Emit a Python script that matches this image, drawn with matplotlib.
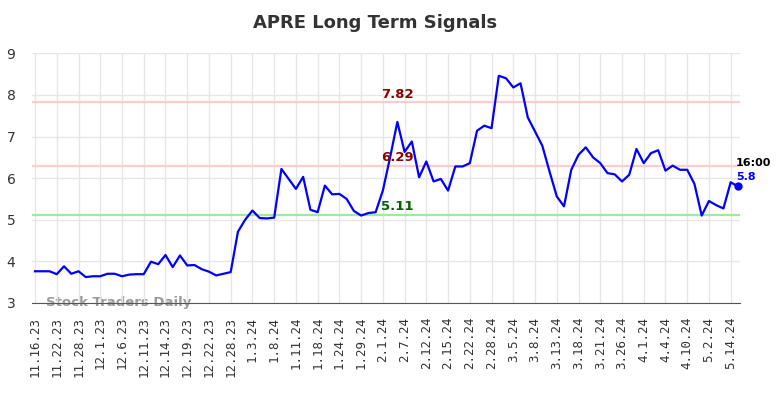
import matplotlib
matplotlib.use("Agg")
import matplotlib.pyplot as plt

tick_labels = ["11.16.23", "11.22.23", "11.28.23", "12.1.23", "12.6.23", "12.11.23", "12.14.23",
               "12.19.23", "12.22.23", "12.28.23", "1.3.24", "1.8.24", "1.11.24", "1.18.24",
               "1.24.24", "1.29.24", "2.1.24", "2.7.24", "2.12.24", "2.15.24", "2.22.24",
               "2.28.24", "3.5.24", "3.8.24", "3.13.24", "3.18.24", "3.21.24", "3.26.24",
               "4.1.24", "4.4.24", "4.10.24", "5.2.24", "5.14.24"]

values = [3.76, 3.76, 3.76, 3.69, 3.88, 3.70, 3.76, 3.62, 3.64, 3.64,
          3.70, 3.70, 3.64, 3.68, 3.69, 3.69, 3.99, 3.93, 4.15, 3.86,
          4.14, 3.90, 3.91, 3.81, 3.75, 3.66, 3.70, 3.74, 4.71, 5.00,
          5.22, 5.04, 5.03, 5.05, 6.22, 5.98, 5.74, 6.03, 5.24, 5.18,
          5.82, 5.61, 5.62, 5.50, 5.21, 5.10, 5.16, 5.18, 5.70, 6.50,
          7.35, 6.63, 6.88, 6.02, 6.40, 5.92, 5.98, 5.70, 6.28, 6.28,
          6.36, 7.14, 7.26, 7.20, 8.46, 8.40, 8.18, 8.28, 7.46, 7.12,
          6.78, 6.16, 5.56, 5.32, 6.20, 6.56, 6.74, 6.50, 6.36, 6.12,
          6.09, 5.92, 6.08, 6.70, 6.36, 6.60, 6.67, 6.18, 6.30, 6.20,
          6.20, 5.86, 5.10, 5.45, 5.35, 5.27, 5.90, 5.80]

upper_level = 7.82
mid_level = 6.29
lower_level = 5.11
last_label_time = "16:00"
last_value = 5.80

fig = plt.figure(figsize=(7.84, 3.98), dpi=100)
ax = fig.add_axes([0.041, 0.239, 0.903, 0.627])

x = list(range(len(values)))
ax.plot(x, values, color="#0000ff", lw=1.6, zorder=3)
ax.plot([x[-1]], [last_value], "o", color="#0000ff", ms=5, zorder=4, clip_on=False)

ax.axhline(upper_level, color="#ffcccc", lw=1.6, zorder=2)
ax.axhline(mid_level, color="#ffcccc", lw=1.6, zorder=2)
ax.axhline(lower_level, color="#99ee99", lw=1.6, zorder=2)

lx = 50
ax.text(lx, upper_level + 0.04, f"{upper_level:.2f}", color="#8b0000", fontsize=9.5,
        fontweight="bold", ha="center", va="bottom", zorder=5)
ax.text(lx, mid_level + 0.04, f"{mid_level:.2f}", color="#8b0000", fontsize=9.5,
        fontweight="bold", ha="center", va="bottom", zorder=5)
ax.text(lx, lower_level + 0.04, f"{lower_level:.2f}", color="#006400", fontsize=9.5,
        fontweight="bold", ha="center", va="bottom", zorder=5)

ax.text(x[-1] - 0.3, last_value + 0.45, last_label_time, color="black", fontsize=8,
        fontweight="bold", ha="left", va="bottom", clip_on=False)
ax.text(x[-1] - 0.3, last_value + 0.1, f"{last_value:g}", color="#0000ff", fontsize=8,
        fontweight="bold", ha="left", va="bottom", clip_on=False)

ax.text(1.5, 3.0, "Stock Traders Daily", color="#999999", fontsize=9.5,
        fontweight="bold", ha="left", va="center", zorder=1, clip_on=False)

ax.set_xlim(-0.4, 97.3)
ax.set_ylim(3, 9)
ticks = list(range(0, 3 * len(tick_labels), 3))
ax.set_xticks(ticks)
ax.set_xticklabels(tick_labels, rotation=90, fontsize=9, family="DejaVu Sans Mono")
ax.set_yticks(range(3, 10))
ax.tick_params(axis="y", labelsize=10, length=0, pad=12, colors="#333333")
ax.tick_params(axis="x", length=0, pad=10, colors="#333333")
ax.grid(True, color="#e6e6e6", lw=1)
for s in ["left", "right", "top"]:
    ax.spines[s].set_visible(False)
ax.spines["bottom"].set_color("#555555")
ax.spines["bottom"].set_zorder(5)

fig.suptitle("APRE Long Term Signals", fontsize=13, fontweight="bold", color="#333333",
             x=0.478, y=0.965)

fig.savefig("out.png", dpi=100)
